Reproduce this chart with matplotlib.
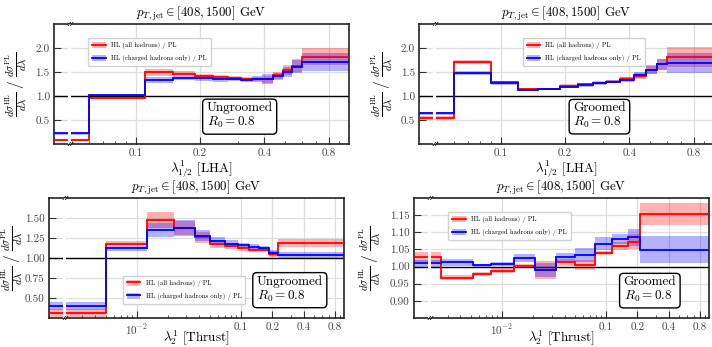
import numpy as np
import matplotlib
matplotlib.use("Agg")
import matplotlib.pyplot as plt
from matplotlib.lines import Line2D
from matplotlib.patches import Patch, Rectangle
from matplotlib.ticker import FixedLocator, FixedFormatter, LogLocator, NullFormatter

plt.rcParams['font.family'] = 'serif'
plt.rcParams['font.serif'] = ['cmr10', 'DejaVu Serif']
plt.rcParams['mathtext.fontset'] = 'cm'
plt.rcParams['axes.formatter.use_mathtext'] = True

# ---------------- data ----------------
title = r"$p_{T,\mathrm{jet}} \in [408, 1500]$ GeV"
ylabel = r"$\frac{d\sigma^{\mathrm{HL}}}{d\lambda}\;/\;\frac{d\sigma^{\mathrm{PL}}}{d\lambda}$"
label_all = "HL (all hadrons) / PL"
label_ch = "HL (charged hadrons only) / PL"

# LHA, ungroomed
lha_ungr_edges = [0, 0.06, 0.11, 0.15, 0.19, 0.23, 0.27, 0.31, 0.35, 0.39, 0.44, 0.49, 0.54, 0.60, 1.0]
lha_ungr_all = [0.09, 0.95, 1.49, 1.46, 1.41, 1.39, 1.37, 1.35, 1.35, 1.35, 1.43, 1.54, 1.63, 1.82]
lha_ungr_all_err = [0.02, 0.02, 0.07, 0.05, 0.04, 0.04, 0.04, 0.04, 0.04, 0.07, 0.07, 0.10, 0.13, 0.17]
lha_ungr_ch = [0.22, 1.01, 1.33, 1.37, 1.37, 1.35, 1.35, 1.33, 1.35, 1.35, 1.41, 1.50, 1.61, 1.70]
lha_ungr_ch_err = [0.04, 0.02, 0.07, 0.04, 0.05, 0.05, 0.04, 0.04, 0.06, 0.11, 0.07, 0.10, 0.13, 0.19]

# LHA, groomed
lha_gr_edges = [0, 0.06, 0.09, 0.12, 0.15, 0.19, 0.23, 0.27, 0.31, 0.36, 0.42, 0.48, 0.54, 0.60, 1.0]
lha_gr_all = [0.54, 1.70, 1.29, 1.14, 1.15, 1.21, 1.25, 1.28, 1.30, 1.35, 1.41, 1.54, 1.66, 1.81]
lha_gr_all_err = [0.05, 0.04, 0.03, 0.02, 0.02, 0.03, 0.03, 0.03, 0.03, 0.04, 0.06, 0.09, 0.12, 0.20]
lha_gr_ch = [0.64, 1.48, 1.26, 1.13, 1.14, 1.19, 1.22, 1.26, 1.30, 1.34, 1.43, 1.55, 1.66, 1.69]
lha_gr_ch_err = [0.03, 0.04, 0.03, 0.02, 0.02, 0.03, 0.03, 0.03, 0.04, 0.05, 0.06, 0.09, 0.12, 0.21]

# Thrust, ungroomed
thr_ungr_edges = [0, 0.005, 0.0125, 0.023, 0.036, 0.05, 0.07, 0.093, 0.12, 0.15, 0.185, 0.225, 1.0]
thr_ungr_all = [0.31, 1.18, 1.47, 1.375, 1.26, 1.17, 1.15, 1.12, 1.10, 1.10, 1.05, 1.19]
thr_ungr_all_err = [0.05, 0.03, 0.10, 0.09, 0.07, 0.05, 0.04, 0.03, 0.03, 0.03, 0.04, 0.05]
thr_ungr_ch = [0.40, 1.12, 1.35, 1.37, 1.28, 1.21, 1.18, 1.16, 1.14, 1.12, 1.06, 1.04]
thr_ungr_ch_err = [0.05, 0.03, 0.09, 0.10, 0.07, 0.05, 0.04, 0.03, 0.03, 0.03, 0.04, 0.04]

# Thrust, groomed
thr_gr_edges = [0, 0.0026, 0.0053, 0.0078, 0.013, 0.0206, 0.033, 0.051, 0.079, 0.115, 0.163, 0.211, 1.0]
thr_gr_all = [1.028, 0.968, 0.978, 0.988, 1.003, 0.990, 1.013, 1.005, 1.040, 1.060, 1.072, 1.153]
thr_gr_all_err = [0.015, 0.008, 0.006, 0.008, 0.004, 0.025, 0.010, 0.015, 0.006, 0.012, 0.022, 0.033]
thr_gr_ch = [1.010, 1.012, 1.004, 1.008, 1.025, 0.990, 1.027, 1.034, 1.067, 1.080, 1.085, 1.049]
thr_gr_ch_err = [0.010, 0.010, 0.004, 0.006, 0.012, 0.020, 0.012, 0.020, 0.018, 0.015, 0.025, 0.040]

lha_ticks = [0.1, 0.2, 0.4, 0.8]
lha_ticklabels = ["0.1", "0.2", "0.4", "0.8"]
thr_ticks = [0.01, 0.1, 0.2, 0.4, 0.8]
thr_ticklabels = [r"$10^{-2}$", "0.1", "0.2", "0.4", "0.8"]


def draw_panel(ax, edges, v_all, e_all, v_ch, e_ch, xlim, ylim, yticks, yfmt,
               xticks, xticklabels, xlabel, boxtext, legpos, ylab_x, xlab_y):
    edges = np.array(edges, dtype=float)
    edges[0] = xlim[0]  # underflow bin shown from the axis edge
    ax.set_xscale('log')
    ax.set_xlim(xlim)
    ax.set_ylim(ylim)
    ax.set_axisbelow(True)

    for vals, errs, col in ((v_all, e_all, 'red'), (v_ch, e_ch, 'blue')):
        vals = np.array(vals)
        errs = np.array(errs)
        ax.stairs(vals + errs, edges, baseline=vals - errs, fill=True,
                  color=col, alpha=0.3, lw=0, zorder=2)
        ax.stairs(vals, edges, baseline=None, color=col, lw=1.3, zorder=3)

    ax.axhline(1.0, color='black', lw=1.0, zorder=1.8)

    ax.yaxis.set_major_locator(FixedLocator(yticks))
    ax.yaxis.set_major_formatter(FixedFormatter([yfmt % t for t in yticks]))
    ax.xaxis.set_major_locator(FixedLocator(xticks))
    ax.xaxis.set_major_formatter(FixedFormatter(xticklabels))
    ax.xaxis.set_minor_locator(LogLocator(base=10, subs=np.arange(2, 10)))
    ax.xaxis.set_minor_formatter(NullFormatter())
    ax.tick_params(which='both', direction='in', labelsize=8, colors='#333333',
                   labelcolor='#444444', pad=3)
    ax.tick_params(which='major', length=5)
    ax.tick_params(which='minor', length=2.5)
    ax.grid(True, which='major', color='#dddddd', lw=0.9)
    for s in ax.spines.values():
        s.set_linewidth(1.2)
        s.set_color('#222222')

    ax.set_title(title, fontsize=9.3, pad=5)
    ax.set_xlabel(xlabel, fontsize=9.5)
    ax.xaxis.set_label_coords(0.5, xlab_y)
    ax.set_ylabel(ylabel, fontsize=11)
    ax.yaxis.set_label_coords(ylab_x, 0.5)

    # axis break between the underflow bin and the rest
    fb = 0.054
    ax.add_patch(Rectangle((fb - 0.005, 0), 0.01, 1, transform=ax.transAxes,
                           facecolor='white', edgecolor='none', zorder=4))
    for yb in (0.0, 1.0):
        for dx in (-0.006, 0.002):
            ax.plot([fb + dx, fb + dx + 0.008], [yb - 0.012, yb + 0.012],
                    transform=ax.transAxes, color='#222222', lw=0.7,
                    clip_on=False, zorder=6)

    txt = "Ungroomed\n$R_0 = 0.8$" if boxtext[2] == 'u' else "Groomed\n$R_0 = 0.8$"
    ax.text(boxtext[0], boxtext[1], txt, transform=ax.transAxes, fontsize=9.5,
            ha='center', va='center', multialignment='left', linespacing=1.05, zorder=7,
            bbox=dict(boxstyle='round,pad=0.3', facecolor='white',
                      edgecolor='black', lw=1.0))

    h_all = (Patch(facecolor='red', alpha=0.3, lw=0), Line2D([], [], color='red', lw=1.3))
    h_ch = (Patch(facecolor='blue', alpha=0.3, lw=0), Line2D([], [], color='blue', lw=1.3))
    leg = ax.legend([h_all, h_ch], [label_all, label_ch], loc=legpos[0],
                    bbox_to_anchor=legpos[1], fontsize=4.8, handlelength=2.0,
                    handleheight=1.0, borderpad=0.6, labelspacing=0.85,
                    handletextpad=0.8, fancybox=True, framealpha=0.9,
                    edgecolor='#cccccc')
    leg.set_zorder(8)


fig = plt.figure(figsize=(7.12, 3.47), dpi=100)
ax1 = fig.add_axes([0.0758, 0.585, 0.414, 0.346])
ax2 = fig.add_axes([0.5885, 0.585, 0.414, 0.346])
ax3 = fig.add_axes([0.0688, 0.0836, 0.414, 0.346])
ax4 = fig.add_axes([0.5815, 0.0836, 0.414, 0.346])

lha_xlim = (0.0413, 0.995)
thr_xlim = (0.00143, 0.975)

draw_panel(ax1, lha_ungr_edges, lha_ungr_all, lha_ungr_all_err, lha_ungr_ch, lha_ungr_ch_err,
           lha_xlim, (0.0, 2.5), [0.5, 1.0, 1.5, 2.0], "%.1f",
           lha_ticks, lha_ticklabels, r"$\lambda^{1}_{1/2}$ [LHA]",
           (0.63, 0.233, 'u'), ('upper left', (0.105, 0.91)), -0.085, -0.12)
draw_panel(ax2, lha_gr_edges, lha_gr_all, lha_gr_all_err, lha_gr_ch, lha_gr_ch_err,
           lha_xlim, (0.0, 2.5), [0.5, 1.0, 1.5, 2.0], "%.1f",
           lha_ticks, lha_ticklabels, r"$\lambda^{1}_{1/2}$ [LHA]",
           (0.612, 0.233, 'g'), ('upper left', (0.34, 0.91)), -0.081, -0.12)
draw_panel(ax3, thr_ungr_edges, thr_ungr_all, thr_ungr_all_err, thr_ungr_ch, thr_ungr_ch_err,
           thr_xlim, (0.25, 1.75), [0.5, 0.75, 1.0, 1.25, 1.5], "%.2f",
           thr_ticks, thr_ticklabels, r"$\lambda^{1}_{2}$ [Thrust]",
           (0.817, 0.237, 'u'), ('lower left', (0.24, 0.09)), -0.081, -0.085)
draw_panel(ax4, thr_gr_edges, thr_gr_all, thr_gr_all_err, thr_gr_ch, thr_gr_ch_err,
           thr_xlim, (0.85, 1.2), [0.9, 0.95, 1.0, 1.05, 1.1, 1.15], "%.2f",
           thr_ticks, thr_ticklabels, r"$\lambda^{1}_{2}$ [Thrust]",
           (0.80, 0.233, 'g'), ('upper left', (0.105, 0.91)), -0.105, -0.085)

fig.savefig("out.png", dpi=100)
plt.close()
